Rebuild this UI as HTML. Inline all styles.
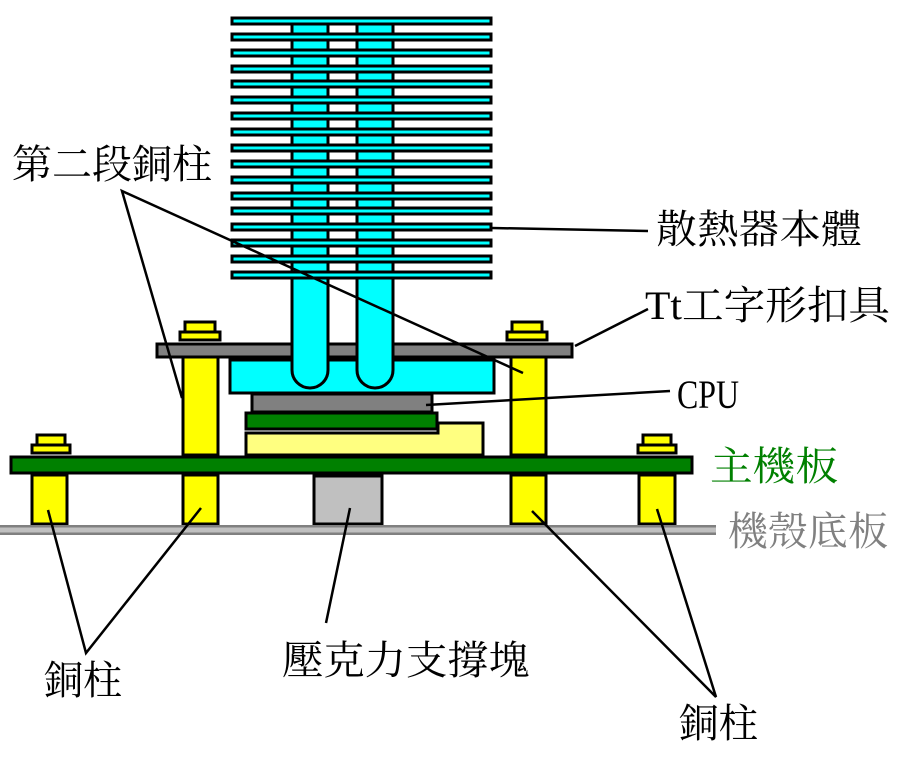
<!DOCTYPE html>
<html><head><meta charset="utf-8"><style>
html,body{margin:0;padding:0;background:#fff;width:900px;height:768px;overflow:hidden}
text{font-family:"Liberation Serif","Noto Serif CJK TC","Noto Serif CJK SC",serif;font-size:40px}
</style></head><body>
<svg width="900" height="768" viewBox="0 0 900 768" xmlns="http://www.w3.org/2000/svg">
<g stroke="#000" stroke-width="3">
<!-- pipes -->
<rect x="292" y="20" width="36" height="350" fill="#00ffff"/>
<rect x="357" y="20" width="36" height="350" fill="#00ffff"/>
<!-- fins -->
<g fill="#00ffff">
<rect x="232" y="18" width="259" height="6"/><rect x="232" y="34" width="259" height="6"/><rect x="232" y="50" width="259" height="6"/><rect x="232" y="66" width="259" height="6"/><rect x="232" y="81" width="259" height="6"/><rect x="232" y="97" width="259" height="6"/><rect x="232" y="113" width="259" height="6"/><rect x="232" y="129" width="259" height="6"/><rect x="232" y="145" width="259" height="6"/><rect x="232" y="161" width="259" height="6"/><rect x="232" y="177" width="259" height="6"/><rect x="232" y="193" width="259" height="6"/><rect x="232" y="208" width="259" height="6"/><rect x="232" y="224" width="259" height="6"/><rect x="232" y="240" width="259" height="6"/><rect x="232" y="256" width="259" height="6"/><rect x="232" y="272" width="259" height="6"/>
</g>
<!-- bolts top -->
<g fill="#ffff00">
<rect x="185" y="322" width="30" height="10"/><rect x="180" y="332" width="40" height="8"/>
<rect x="512" y="322" width="30" height="10"/><rect x="507" y="332" width="40" height="8"/>
<rect x="37" y="435" width="28" height="10"/><rect x="32" y="445" width="38" height="8"/>
<rect x="643" y="435" width="28" height="10"/><rect x="638" y="445" width="38" height="8"/>
</g>
<!-- clip bar -->
<rect x="157" y="344" width="415" height="13" fill="#808080"/>
<!-- upper pillars -->
<rect x="183" y="357" width="35" height="98" fill="#ffff00"/>
<rect x="511" y="357" width="35" height="98" fill="#ffff00"/>
<!-- cyan base -->
<rect x="230" y="360" width="264" height="33" fill="#00ffff"/>
<path d="M292 340 V370 a18 18 0 0 0 36 0 V340" fill="#00ffff"/>
<path d="M357 340 V370 a18 18 0 0 0 36 0 V340" fill="#00ffff"/>
<!-- cpu -->
<rect x="252" y="394" width="180" height="18" fill="#808080"/>
<rect x="246" y="413" width="191" height="16" fill="#008000"/>
<path d="M246 433 H438 V423 H483 V455 H246 Z" fill="#ffff80"/>
<!-- motherboard -->
<rect x="11" y="457" width="681" height="16" fill="#008000"/>
<!-- lower pillars -->
<g fill="#ffff00">
<rect x="32" y="475" width="35" height="49"/><rect x="183" y="475" width="35" height="49"/>
<rect x="511" y="475" width="35" height="49"/><rect x="639" y="475" width="36" height="49"/>
</g>
<rect x="314" y="476" width="68" height="48" fill="#c0c0c0"/>
</g>
<!-- chassis -->
<rect x="0" y="525" width="716" height="10" fill="#c0c0c0"/>
<rect x="0" y="525" width="716" height="2.5" fill="#808080"/>
<rect x="0" y="532.5" width="716" height="2.5" fill="#808080"/>
<!-- leader lines -->
<g stroke="#000" stroke-width="2.5" fill="none">
<polyline points="182,398 122,191 523,373"/>
<line x1="492" y1="228" x2="648" y2="231"/>
<line x1="575" y1="346" x2="648" y2="309"/>
<line x1="426" y1="405" x2="670" y2="391"/>
<polyline points="48,510 86,653 201,508"/>
<line x1="350" y1="508" x2="326" y2="623"/>
<polyline points="532,511 716,697 657,509"/>
</g>
<g fill="#000">
<text x="12" y="178">第二段銅柱</text>
<text x="656" y="243" textLength="206" lengthAdjust="spacingAndGlyphs">散熱器本體</text>
<text x="645" y="319" textLength="245" lengthAdjust="spacingAndGlyphs">Tt工字形扣具</text>
<text x="677" y="408" textLength="62" lengthAdjust="spacingAndGlyphs">CPU</text>
<text x="44" y="694" textLength="78" lengthAdjust="spacingAndGlyphs">銅柱</text>
<text x="282" y="674" textLength="248" lengthAdjust="spacingAndGlyphs">壓克力支撐塊</text>
<text x="679" y="737" textLength="79" lengthAdjust="spacingAndGlyphs">銅柱</text>
</g>
<text x="710" y="480" fill="#008000" textLength="128" lengthAdjust="spacingAndGlyphs">主機板</text>
<text x="728" y="545" fill="#808080" textLength="160" lengthAdjust="spacingAndGlyphs">機殼底板</text>
</svg>
</body></html>
